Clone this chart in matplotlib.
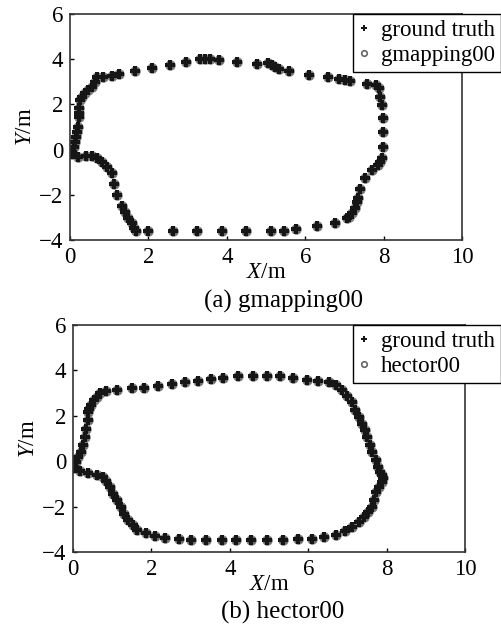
import matplotlib
matplotlib.use('Agg')
import matplotlib.pyplot as plt

plt.rcParams['font.family'] = ['Liberation Serif', 'DejaVu Serif']
plt.rcParams['mathtext.fontset'] = 'custom'
plt.rcParams['mathtext.it'] = 'Liberation Serif:italic'
plt.rcParams['mathtext.rm'] = 'Liberation Serif'

# (a) gmapping00 -- ground truth path (estimate overlaps it)
gt_a_x = [0.04, 0.09, 0.13, 0.15, 0.19, 0.21, 0.23, 0.23, 0.23, 0.26, 0.30, 0.38, 0.47, 0.55,
          0.64, 0.70, 0.85, 1.06, 1.26, 1.66, 2.10, 2.55, 2.96, 3.32, 3.45, 3.57, 3.80, 4.26,
          4.78, 5.06, 5.15, 5.23, 5.32, 5.59, 6.10, 6.58, 6.85, 7.02, 7.15, 7.57, 7.81, 7.87,
          7.91, 7.96, 7.98, 7.98, 7.98, 7.96, 7.91, 7.86, 7.70, 7.53, 7.40, 7.34, 7.32, 7.28,
          7.19, 7.11, 7.06, 6.75, 6.30, 5.77, 5.46, 5.12, 4.49, 3.89, 3.23, 2.62, 1.98, 1.69,
          1.64, 1.57, 1.49, 1.40, 1.32, 1.19, 1.11, 1.08, 0.94, 0.81, 0.68, 0.55, 0.41, 0.21, 0.04]
gt_a_y = [-0.09, 0.13, 0.35, 0.57, 0.79, 1.01, 1.46, 1.60, 1.83, 2.19, 2.34, 2.49, 2.64, 2.78,
          3.01, 3.20, 3.23, 3.26, 3.35, 3.48, 3.63, 3.74, 3.89, 4.01, 4.01, 4.01, 3.95, 3.88,
          3.80, 3.82, 3.73, 3.64, 3.57, 3.48, 3.32, 3.21, 3.14, 3.08, 3.04, 2.92, 2.86, 2.71,
          2.34, 1.97, 1.38, 0.76, 0.13, -0.39, -0.53, -0.68, -0.90, -1.27, -1.74, -2.13, -2.30, -2.60,
          -2.79, -2.97, -3.04, -3.23, -3.40, -3.53, -3.59, -3.60, -3.60, -3.60, -3.60, -3.62, -3.60, -3.60,
          -3.48, -3.26, -3.04, -2.78, -2.50, -2.01, -1.52, -1.02, -0.76, -0.56, -0.39, -0.28, -0.28, -0.31, -0.19]
gmapping_x = gt_a_x
gmapping_y = gt_a_y

# (b) hector00
gt_b_x = [0.02, 0.07, 0.13, 0.20, 0.26, 0.31, 0.34, 0.37, 0.38, 0.41, 0.47, 0.54, 0.60, 0.68,
          0.85, 1.13, 1.51, 1.82, 2.16, 2.52, 2.86, 3.20, 3.52, 3.82, 4.20, 4.58, 4.94, 5.28,
          5.62, 5.96, 6.26, 6.54, 6.71, 6.85, 6.98, 7.11, 7.19, 7.29, 7.36, 7.45, 7.51, 7.57,
          7.64, 7.72, 7.77, 7.83, 7.87, 7.90, 7.87, 7.81, 7.74, 7.68, 7.62, 7.53, 7.43, 7.30,
          7.13, 6.94, 6.71, 6.40, 6.10, 5.74, 5.36, 4.94, 4.55, 4.15, 3.79, 3.40, 3.02, 2.70,
          2.34, 2.08, 1.87, 1.64, 1.53, 1.40, 1.29, 1.22, 1.11, 1.02, 0.94, 0.85, 0.77, 0.62,
          0.38, 0.17, 0.02]
gt_b_y = [-0.25, -0.03, 0.19, 0.41, 0.71, 1.07, 1.44, 1.81, 2.18, 2.32, 2.47, 2.69, 2.84, 3.01,
          3.09, 3.12, 3.21, 3.24, 3.31, 3.40, 3.47, 3.54, 3.62, 3.68, 3.74, 3.76, 3.76, 3.74,
          3.65, 3.59, 3.53, 3.47, 3.37, 3.13, 2.87, 2.59, 2.25, 1.96, 1.66, 1.37, 1.07, 0.71,
          0.41, 0.07, -0.25, -0.47, -0.62, -0.76, -0.91, -1.13, -1.35, -1.69, -2.01, -2.24, -2.46, -2.68,
          -2.90, -3.09, -3.26, -3.34, -3.41, -3.44, -3.47, -3.47, -3.49, -3.49, -3.49, -3.49, -3.47, -3.41,
          -3.38, -3.29, -3.16, -3.04, -2.82, -2.57, -2.31, -2.01, -1.72, -1.43, -1.13, -0.87, -0.69, -0.62,
          -0.53, -0.44, -0.32]
hector_x = gt_b_x
hector_y = gt_b_y

panels = [
    (gt_a_x, gt_a_y, gmapping_x, gmapping_y, 'gmapping00', '(a) gmapping00'),
    (gt_b_x, gt_b_y, hector_x, hector_y, 'hector00', '(b) hector00'),
]

fig = plt.figure(figsize=(5.02, 6.26), dpi=100)
rects = [[70 / 502, 386 / 626, 392 / 502, 226 / 626],
         [73 / 502, 74 / 626, 392 / 502, 227 / 626]]
legend_tops = [1 - 14 / 626, 1 - 325 / 626]
caption_y = [1 - 301 / 626, 1 - 612 / 626]

for i, (gx, gy, ex, ey, name, caption) in enumerate(panels):
    ax = fig.add_axes(rects[i])
    ax.plot(ex, ey, linestyle='none', marker='o', markersize=7,
            markerfacecolor='#6a6a6a', markeredgecolor='#8a8a8a',
            markeredgewidth=0.6, label=name)
    ax.plot(gx, gy, linestyle='none', marker='P', markersize=6.5,
            color='#161616', markeredgewidth=0, label='ground truth')
    ax.set_xlim(0, 10)
    ax.set_ylim(-4, 6)
    ax.set_xticks([0, 2, 4, 6, 8, 10])
    ax.set_yticks([-4, -2, 0, 2, 4, 6])
    ax.set_yticklabels(['\u22124', '\u22122', '0', '2', '4', '6'])
    ax.tick_params(direction='in', length=3, width=1, labelsize=16.5,
                   top=False, right=False)
    ax.tick_params(axis='x', pad=5)
    ax.tick_params(axis='y', pad=5)
    for sp in ax.spines.values():
        sp.set_linewidth(1.2)
        sp.set_color('#333333')
    ax.set_xlabel('$X$/m', fontsize=16.5, labelpad=-4)
    ax.set_ylabel('$Y$/m', fontsize=16.5, labelpad=2)

    # legend: ground truth first, small markers
    leg_handles = [
        plt.Line2D([], [], linestyle='none', marker='P', markersize=5,
                   color='#161616', markeredgewidth=0),
        plt.Line2D([], [], linestyle='none', marker='o', markersize=4,
                   markerfacecolor='white', markeredgecolor='#666666',
                   markeredgewidth=1.2),
    ]
    leg = ax.legend(leg_handles, ['ground truth', name], loc='upper right',
                    bbox_to_anchor=(501 / 502, legend_tops[i]),
                    bbox_transform=fig.transFigure, borderaxespad=0,
                    fontsize=16.5, frameon=True, fancybox=False, handlelength=0.5,
                    handletextpad=0.5, borderpad=0.25, labelspacing=0.2)
    leg.get_frame().set_edgecolor('black')
    leg.get_frame().set_linewidth(1.0)
    leg.get_frame().set_alpha(1)
    fig.text(283 / 502, caption_y[i], caption, ha='center', va='center', fontsize=18)

fig.savefig('out.png', dpi=100)
